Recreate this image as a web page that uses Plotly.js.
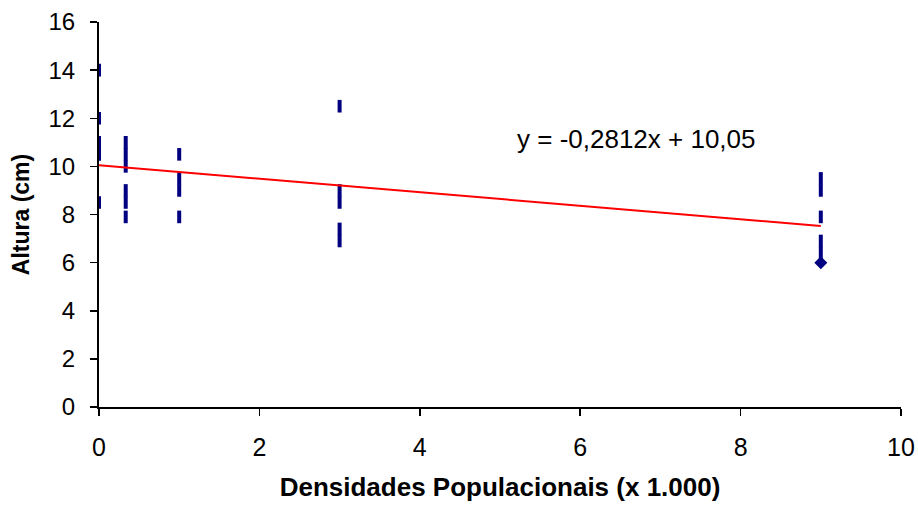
<!DOCTYPE html>
<html>
<head>
<meta charset="utf-8">
<script src="https://cdn.plot.ly/plotly-3.0.1.min.js"></script>
<style>html,body{margin:0;padding:0;background:#fff;}#chart{width:918px;height:506px;}</style>
</head>
<body>
<div id="chart"></div>
<script>
// Observations (density x 1.000, height cm)
const densidade = [0,0,0,0,0,
  0.333,0.333,0.333,0.333,0.333,0.333,
  1,1,1,1,
  3,3,3,3,3,
  9,9,9,9,9];
const altura = [14.0,12.0,11.0,10.5,8.5,
  11.0,10.5,10.0,9.0,8.5,7.9,
  10.5,9.5,9.0,7.9,
  12.5,9.0,8.5,7.4,6.9,
  9.5,9.0,7.9,6.9,6.4];
const pontoDestaqueX = [9];
const pontoDestaqueY = [6];
// Linear trend reported on the chart
const slope = -0.2812;
const intercept = 10.05;
const trendX = [0, 9];
const trendY = trendX.map(x => intercept + slope * x);
const equacao = "y = -0,2812x + 10,05";

const navy = '#000080';
const font = 'Liberation Sans, Arial, sans-serif';

const traces = [
  {x: densidade, y: altura, mode: 'markers', type: 'scatter',
   marker: {symbol: 'line-ns', size: 9, line: {color: navy, width: 4}},
   hoverinfo: 'x+y'},
  {x: trendX, y: trendY, mode: 'lines', type: 'scatter',
   line: {color: '#ff0000', width: 2}},
  {x: pontoDestaqueX, y: pontoDestaqueY, mode: 'markers', type: 'scatter',
   marker: {symbol: 'diamond', size: 10, color: navy}}
];

const layout = {
  width: 918, height: 506,
  margin: {l: 99, r: 17, t: 22, b: 99},
  paper_bgcolor: '#fff', plot_bgcolor: '#fff',
  showlegend: false,
  font: {family: font, size: 23, color: '#000'},
  xaxis: {
    range: [0, 10], tick0: 0, dtick: 2, showgrid: false, zeroline: false,
    showline: true, linecolor: '#000', linewidth: 2,
    ticks: 'outside', ticklen: 7, tickwidth: 1.5, tickcolor: '#000',
    ticklabelstandoff: 10,
    tickfont: {family: font, size: 25, color: '#000'},
    title: {text: '<b>Densidades Populacionais (x 1.000)</b>', font: {family: font, size: 26, color: '#000'}, standoff: 18}
  },
  yaxis: {
    range: [0, 16], tick0: 0, dtick: 2, showgrid: false, zeroline: false,
    showline: true, linecolor: '#000', linewidth: 2,
    ticks: 'outside', ticklen: 7, tickwidth: 1.5, tickcolor: '#000',
    ticklabelstandoff: 10,
    tickfont: {family: font, size: 24, color: '#000'},
    title: {text: '<b>Altura (cm)</b>', font: {family: font, size: 23, color: '#000'}, standoff: 12}
  },
  annotations: [{
    x: 5.19, y: 11.14, xref: 'x', yref: 'y', xanchor: 'left', yanchor: 'middle',
    text: equacao, showarrow: false, font: {family: font, size: 26, color: '#000'}
  }]
};

Plotly.newPlot('chart', traces, layout, {displayModeBar: false, staticPlot: true});
</script>
</body>
</html>
